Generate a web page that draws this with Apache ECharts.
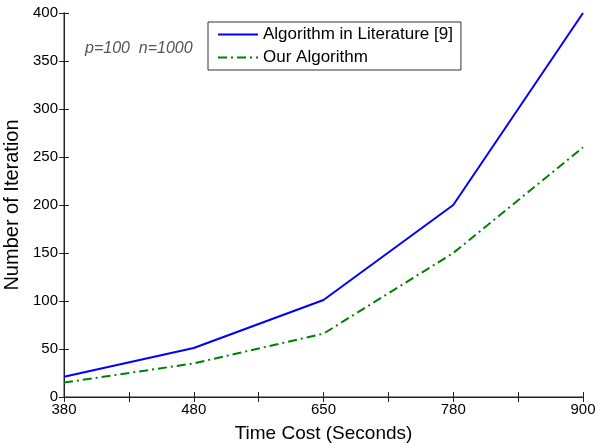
<!DOCTYPE html>
<html>
<head>
    <meta charset="utf-8">
    <title>Iteration vs time</title>
    <script src="https://cdn.jsdelivr.net/npm/echarts@6/dist/echarts.min.js"></script>
    <style>
        html, body { margin: 0; padding: 0; background: #fff; }
        #main { width: 596px; height: 443px; }
    </style>
</head>
<body>
    <div id="main"></div>
    <script type="text/javascript">
        // tick labels of the x axis (evenly spaced)
        var timeCost = ['380', '480', '650', '780', '900'];
        // values
        var literature = [21, 51, 101, 200, 400];
        var ours = [15, 35, 66, 150, 260];

        function pairs(arr) {
            return arr.map(function (v, i) { return [i, v]; });
        }

        var font = 'Liberation Sans, Arial, sans-serif';
        var axisColor = '#707070';
        var tickColor = '#222';

        var myChart = echarts.init(document.getElementById('main'));

        var option = {
            animation: false,
            title: {
                text: 'p=100  n=1000',
                left: 80,
                top: 36,
                textStyle: {
                    fontFamily: font,
                    fontStyle: 'italic',
                    fontWeight: 'normal',
                    fontSize: 16,
                    color: '#555'
                }
            },
            legend: {
                orient: 'vertical',
                left: 208,
                top: 22,
                itemWidth: 40,
                itemHeight: 10,
                itemGap: 6,
                padding: [4, 8, 4, 9],
                borderColor: '#333',
                borderWidth: 1,
                backgroundColor: '#fff',
                itemStyle: { opacity: 0 },
                textStyle: { fontFamily: font, fontSize: 17, color: '#000' },
                data: ['Algorithm in Literature [9]', 'Our Algorithm']
            },
            grid: { left: 64, right: 13, top: 13, bottom: 46, outerBoundsMode: 'none', containLabel: false },
            xAxis: [{
                type: 'value',
                min: 0,
                max: 4,
                interval: 1,
                position: 'bottom',
                name: 'Time Cost (Seconds)',
                nameLocation: 'middle',
                nameGap: 27,
                nameTextStyle: { fontFamily: font, fontSize: 19, color: '#000' },
                axisLine: { lineStyle: { color: axisColor, width: 1.5 } },
                axisTick: { inside: true, length: 5, lineStyle: { color: tickColor } },
                minorTick: { show: true, splitNumber: 2, length: 5, lineStyle: { color: tickColor } },
                splitLine: { show: false },
                axisLabel: {
                    margin: 5,
                    fontFamily: font,
                    fontSize: 15,
                    color: '#000',
                    formatter: function (v) { return timeCost[v]; }
                }
            }, {
                type: 'value',
                min: 0,
                max: 4,
                interval: 1,
                position: 'top',
                axisLine: { lineStyle: { color: tickColor } },
                axisTick: { inside: true, length: 5, lineStyle: { color: tickColor } },
                minorTick: { show: true, splitNumber: 2, length: 5, lineStyle: { color: tickColor } },
                splitLine: { show: false },
                axisLabel: { show: false }
            }],
            yAxis: [{
                type: 'value',
                min: 0,
                max: 400,
                interval: 50,
                position: 'left',
                name: 'Number of Iteration',
                nameLocation: 'middle',
                nameGap: 38,
                nameTextStyle: { fontFamily: font, fontSize: 20, color: '#000' },
                axisLine: { show: true, lineStyle: { color: axisColor, width: 1.5 } },
                axisTick: { show: true, inside: true, length: 5, lineStyle: { color: tickColor } },
                splitLine: { show: false },
                axisLabel: { margin: 6, fontFamily: font, fontSize: 15, color: '#000' }
            }, {
                type: 'value',
                min: 0,
                max: 400,
                interval: 50,
                position: 'right',
                axisLine: { show: true, lineStyle: { color: tickColor } },
                axisTick: { show: true, inside: true, length: 5, lineStyle: { color: tickColor } },
                splitLine: { show: false },
                axisLabel: { show: false }
            }],
            series: [{
                name: 'Algorithm in Literature [9]',
                type: 'line',
                symbol: 'none',
                data: pairs(literature),
                lineStyle: { color: '#0000ff', width: 2 },
                itemStyle: { color: '#0000ff' }
            }, {
                name: 'Our Algorithm',
                type: 'line',
                symbol: 'none',
                data: pairs(ours),
                lineStyle: { color: '#008000', width: 2, type: [9, 4, 2, 4] },
                itemStyle: { color: '#008000' }
            }]
        };

        myChart.setOption(option);
    </script>
</body>
</html>
